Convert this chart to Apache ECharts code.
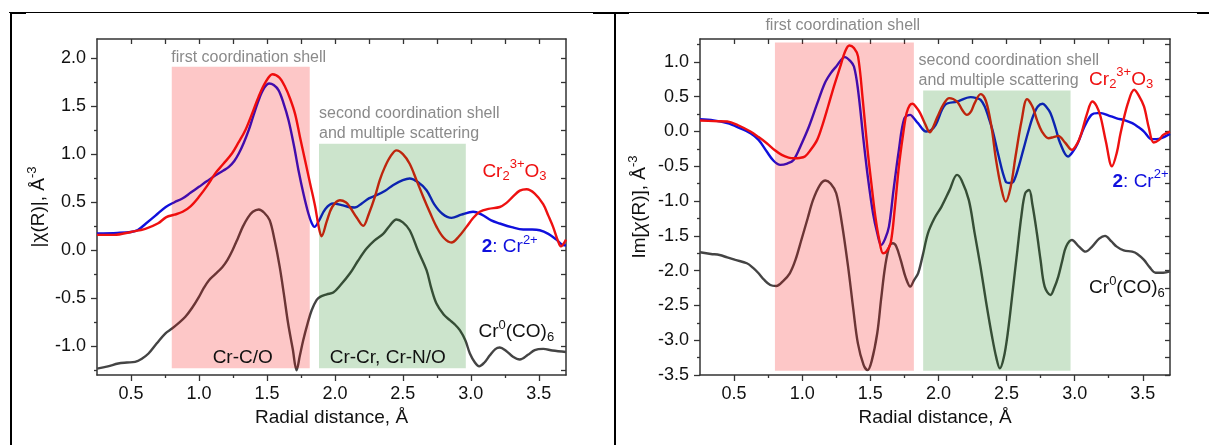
<!DOCTYPE html>
<html><head><meta charset="utf-8">
<script src="https://cdn.jsdelivr.net/npm/echarts@6/dist/echarts.min.js"></script>
<style>html,body{margin:0;padding:0;background:#fff}#c{width:1209px;height:445px}</style>
</head><body><div id="c"></div>
<script>
// ---------- tick labels ----------
const xMajorTicks = [0.5, 1.0, 1.5, 2.0, 2.5, 3.0, 3.5];
const xMinorTicks = [0.75, 1.25, 1.75, 2.25, 2.75, 3.25];
const yMajorTicksAbs = [-1.0, -0.5, 0.0, 0.5, 1.0, 1.5, 2.0];
const yMinorTicksAbs = [-1.25, -0.75, -0.25, 0.25, 0.75, 1.25, 1.75];
const yMajorTicksIm = [-3.5, -3.0, -2.5, -2.0, -1.5, -1.0, -0.5, 0.0, 0.5, 1.0];
const yMinorTicksIm = [-3.25, -2.75, -2.25, -1.75, -1.25, -0.75, -0.25, 0.25, 0.75, 1.25];

// ---------- |chi(R)| (left panel) ----------
const absCr2O3 = [[0.25,0.16],[0.375,0.16],[0.5,0.19],[0.61,0.225],[0.7,0.28],[0.76,0.345],[0.82,0.37],[0.88,0.40],[0.94,0.46],[1.0,0.556],[1.06,0.67],[1.12,0.80],[1.18,0.90],[1.244,1.01],[1.29,1.12],[1.341,1.25],[1.39,1.42],[1.439,1.60],[1.49,1.75],[1.541,1.833],[1.59,1.80],[1.634,1.70],[1.67,1.58],[1.707,1.42],[1.743,1.18],[1.78,0.94],[1.82,0.68],[1.854,0.46],[1.88,0.25],[1.902,0.146],[1.94,0.30],[1.98,0.45],[2.037,0.521],[2.08,0.50],[2.11,0.45],[2.16,0.34],[2.208,0.253],[2.25,0.38],[2.294,0.555],[2.33,0.73],[2.368,0.868],[2.41,0.98],[2.453,1.04],[2.50,1.00],[2.55,0.90],[2.60,0.73],[2.65,0.555],[2.70,0.39],[2.748,0.243],[2.80,0.13],[2.858,0.08],[2.91,0.14],[2.968,0.243],[3.02,0.34],[3.066,0.40],[3.13,0.43],[3.213,0.45],[3.26,0.49],[3.311,0.56],[3.36,0.62],[3.41,0.635],[3.47,0.59],[3.532,0.48],[3.57,0.36],[3.605,0.243],[3.64,0.10],[3.662,0.04],[3.7,0.11]];
const absCr2 = [[0.25,0.174],[0.4,0.18],[0.5,0.19],[0.55,0.21],[0.61,0.278],[0.68,0.36],[0.756,0.451],[0.82,0.50],[0.878,0.538],[0.94,0.60],[1.0,0.66],[1.06,0.72],[1.122,0.78],[1.18,0.83],[1.22,0.868],[1.26,0.93],[1.293,1.007],[1.33,1.12],[1.366,1.25],[1.40,1.40],[1.439,1.5625],[1.48,1.69],[1.517,1.736],[1.55,1.72],[1.585,1.667],[1.62,1.54],[1.659,1.354],[1.70,1.08],[1.732,0.833],[1.77,0.58],[1.805,0.382],[1.83,0.28],[1.85,0.243],[1.88,0.30],[1.93,0.43],[1.988,0.486],[2.05,0.47],[2.10,0.45],[2.147,0.445],[2.20,0.49],[2.25,0.54],[2.306,0.573],[2.37,0.62],[2.43,0.68],[2.50,0.73],[2.55,0.747],[2.61,0.71],[2.674,0.625],[2.73,0.48],[2.79,0.38],[2.858,0.337],[2.93,0.37],[3.017,0.40],[3.08,0.37],[3.15,0.31],[3.213,0.278],[3.30,0.24],[3.385,0.215],[3.45,0.215],[3.507,0.208],[3.57,0.17],[3.63,0.11],[3.68,0.052],[3.7,0.05]];
const absCrCO6 = [[0.25,-1.233],[0.33,-1.21],[0.406,-1.18],[0.47,-1.17],[0.53,-1.163],[0.58,-1.13],[0.629,-1.076],[0.69,-0.97],[0.752,-0.868],[0.802,-0.816],[0.85,-0.76],[0.9,-0.694],[0.95,-0.60],[1.0,-0.486],[1.037,-0.39],[1.074,-0.3125],[1.12,-0.25],[1.173,-0.174],[1.21,-0.10],[1.247,0.0],[1.285,0.12],[1.322,0.243],[1.36,0.34],[1.396,0.40],[1.44,0.424],[1.48,0.39],[1.52,0.3125],[1.557,0.10],[1.594,-0.174],[1.625,-0.46],[1.656,-0.764],[1.69,-1.03],[1.718,-1.25],[1.742,-1.10],[1.767,-0.9375],[1.80,-0.76],[1.829,-0.625],[1.865,-0.52],[1.891,-0.486],[1.94,-0.46],[1.988,-0.44],[2.04,-0.365],[2.11,-0.243],[2.17,-0.11],[2.233,0.017],[2.29,0.10],[2.355,0.17],[2.40,0.25],[2.453,0.32],[2.50,0.29],[2.55,0.208],[2.61,0.0],[2.674,-0.208],[2.71,-0.40],[2.747,-0.555],[2.80,-0.67],[2.846,-0.729],[2.88,-0.77],[2.919,-0.833],[2.96,-0.94],[2.993,-1.076],[3.03,-1.17],[3.061,-1.21],[3.10,-1.17],[3.14,-1.094],[3.18,-1.03],[3.213,-1.014],[3.26,-1.05],[3.31,-1.11],[3.36,-1.139],[3.42,-1.09],[3.47,-1.04],[3.532,-1.028],[3.6,-1.045],[3.7,-1.06]];

// ---------- Im[chi(R)] (right panel) ----------
const imCr2O3 = [[0.25,0.158],[0.35,0.15],[0.45,0.144],[0.53,0.09],[0.62,0.0],[0.68,-0.08],[0.74,-0.168],[0.80,-0.27],[0.85,-0.336],[0.90,-0.375],[0.94,-0.384],[0.98,-0.38],[1.02,-0.36],[1.06,-0.27],[1.11,-0.12],[1.15,0.10],[1.19,0.36],[1.235,0.66],[1.28,0.935],[1.315,1.15],[1.346,1.237],[1.38,1.20],[1.41,1.08],[1.445,0.45],[1.48,-0.264],[1.51,-0.78],[1.537,-1.22],[1.565,-1.55],[1.594,-1.75],[1.62,-1.72],[1.65,-1.6],[1.68,-1.10],[1.71,-0.5],[1.74,-0.05],[1.766,0.264],[1.79,0.38],[1.81,0.40],[1.84,0.34],[1.866,0.264],[1.90,0.12],[1.937,-0.01],[1.965,0.08],[1.994,0.216],[2.04,0.40],[2.08,0.48],[2.137,0.43],[2.175,0.31],[2.209,0.24],[2.24,0.29],[2.266,0.408],[2.31,0.537],[2.34,0.48],[2.366,0.312],[2.395,0.0],[2.423,-0.408],[2.46,-0.80],[2.494,-1.007],[2.53,-0.80],[2.566,-0.36],[2.61,0.15],[2.651,0.465],[2.69,0.36],[2.723,0.168],[2.76,0.0],[2.809,-0.096],[2.845,-0.08],[2.88,-0.062],[2.93,-0.16],[2.98,-0.264],[3.02,-0.17],[3.05,-0.024],[3.09,0.25],[3.13,0.432],[3.16,0.37],[3.19,0.216],[3.23,-0.15],[3.274,-0.5],[3.31,-0.30],[3.337,-0.024],[3.39,0.40],[3.437,0.60],[3.47,0.52],[3.509,0.36],[3.545,0.05],[3.58,-0.158],[3.62,-0.12],[3.65,-0.048],[3.7,0.0]];
const imCr2 = [[0.25,0.177],[0.35,0.16],[0.45,0.12],[0.53,0.06],[0.62,-0.024],[0.68,-0.12],[0.74,-0.288],[0.79,-0.42],[0.84,-0.48],[0.89,-0.46],[0.937,-0.408],[0.99,-0.20],[1.05,0.072],[1.11,0.40],[1.166,0.695],[1.21,0.84],[1.25,0.935],[1.314,1.07],[1.35,1.02],[1.38,0.935],[1.41,0.60],[1.45,-0.12],[1.485,-0.70],[1.52,-1.175],[1.55,-1.45],[1.58,-1.63],[1.607,-1.55],[1.637,-1.367],[1.67,-0.85],[1.71,-0.264],[1.75,0.19],[1.794,0.24],[1.82,0.19],[1.85,0.12],[1.91,0.0],[1.945,0.02],[1.98,0.096],[2.05,0.384],[2.137,0.43],[2.237,0.494],[2.28,0.48],[2.31,0.456],[2.34,0.36],[2.366,0.216],[2.40,0.0],[2.437,-0.312],[2.494,-0.72],[2.525,-0.74],[2.551,-0.72],[2.59,-0.50],[2.623,-0.264],[2.66,0.0],[2.694,0.216],[2.73,0.36],[2.766,0.4],[2.79,0.36],[2.823,0.264],[2.86,0.05],[2.894,-0.168],[2.951,-0.36],[2.99,-0.28],[3.023,-0.168],[3.07,0.06],[3.123,0.24],[3.17,0.265],[3.194,0.264],[3.25,0.23],[3.309,0.19],[3.37,0.16],[3.423,0.12],[3.47,0.06],[3.509,0.0],[3.566,-0.11],[3.60,-0.11],[3.637,-0.096],[3.7,-0.034]];
const imCrCO6 = [[0.25,-1.736],[0.33,-1.76],[0.394,-1.775],[0.45,-1.81],[0.51,-1.846],[0.594,-1.894],[0.64,-1.96],[0.68,-2.038],[0.72,-2.13],[0.766,-2.206],[0.81,-2.22],[0.86,-2.15],[0.909,-2.038],[0.95,-1.85],[0.994,-1.559],[1.04,-1.25],[1.08,-0.983],[1.13,-0.77],[1.171,-0.705],[1.21,-0.75],[1.25,-0.887],[1.29,-1.30],[1.337,-1.942],[1.375,-2.55],[1.409,-3.045],[1.45,-3.35],[1.48,-3.43],[1.51,-3.30],[1.551,-2.9],[1.58,-2.40],[1.609,-1.94],[1.64,-1.65],[1.666,-1.607],[1.69,-1.65],[1.723,-1.846],[1.76,-2.10],[1.794,-2.23],[1.82,-2.14],[1.851,-2.038],[1.885,-1.78],[1.923,-1.463],[1.97,-1.25],[2.023,-1.079],[2.08,-0.85],[2.137,-0.623],[2.17,-0.70],[2.223,-0.983],[2.265,-1.45],[2.309,-1.942],[2.35,-2.45],[2.394,-2.95],[2.425,-3.25],[2.451,-3.405],[2.48,-3.25],[2.509,-2.9],[2.545,-2.30],[2.58,-1.7],[2.61,-1.20],[2.637,-0.887],[2.666,-0.84],[2.69,-1.05],[2.723,-1.463],[2.75,-1.85],[2.78,-2.23],[2.823,-2.35],[2.85,-2.25],[2.88,-2.086],[2.91,-1.85],[2.937,-1.655],[2.98,-1.559],[3.03,-1.65],[3.08,-1.727],[3.13,-1.65],[3.18,-1.54],[3.223,-1.5],[3.27,-1.58],[3.309,-1.655],[3.36,-1.71],[3.423,-1.727],[3.46,-1.76],[3.509,-1.846],[3.55,-1.95],[3.594,-2.03],[3.65,-2.03],[3.7,-2.01]];

// ---------- shaded shell regions [xFrom, xTo, yFrom, yTo] ----------
const absShells = [[0.8, 1.815, -1.23, 1.91], [1.883, 2.963, -1.23, 1.11]];
const imShells  = [[0.8, 1.82, -3.44, 1.28], [1.888, 2.97, -3.44, 0.59]];

// ---------- styles ----------
const FONT = "'Liberation Sans', Arial, sans-serif";
const shellColors = ['rgba(245,0,0,0.22)', 'rgba(0,120,0,0.20)'];
const RED = '#ee1111', BLUE = '#1010dd', DARK = '#444444', GRAY = '#8a8a8a', AX = '#333333';

const chart = echarts.init(document.getElementById('c'), null, {renderer: 'canvas'});

const grids = [
  {left: 97, top: 39, width: 469, height: 336},
  {left: 700, top: 39, width: 470, height: 336}
];

function xAxesFor(g) {
  const base = {type: 'value', gridIndex: g, min: 0.25, max: 3.7, splitLine: {show: false}};
  return [
    Object.assign({}, base, {
      position: 'bottom',
      name: 'Radial distance, Å', nameLocation: 'middle', nameGap: 32,
      nameTextStyle: {fontSize: 19, fontFamily: FONT, color: '#111'},
      axisLine: {show: true, onZero: false, lineStyle: {color: AX, width: 1.5}},
      axisTick: {show: true, inside: false, length: 6, customValues: xMajorTicks, lineStyle: {color: AX, width: 1.3}},
      axisLabel: {show: true, customValues: xMajorTicks, margin: 10, fontSize: 18, fontFamily: FONT, color: '#111',
        formatter: v => v.toFixed(1)}
    }),
    Object.assign({}, base, {
      position: 'bottom',
      axisLine: {show: false, onZero: false},
      axisTick: {show: true, inside: false, length: 3, customValues: xMinorTicks, lineStyle: {color: AX, width: 1.3}},
      axisLabel: {show: false}
    }),
    Object.assign({}, base, {
      position: 'top',
      axisLine: {show: true, onZero: false, lineStyle: {color: AX, width: 1.5}},
      axisTick: {show: true, inside: true, length: 5, customValues: xMajorTicks.concat(xMinorTicks), lineStyle: {color: AX, width: 1.3}},
      axisLabel: {show: false}
    })
  ];
}

function yAxesFor(g, min, max, major, minor, nameRich, gap) {
  const base = {type: 'value', gridIndex: g, min: min, max: max, splitLine: {show: false}};
  return [
    Object.assign({}, base, {
      position: 'left',
      name: nameRich, nameLocation: 'middle', nameGap: gap, nameRotate: 90,
      nameTextStyle: {fontSize: 19, fontFamily: FONT, color: '#111',
        rich: {sup: {fontSize: 13, fontFamily: FONT, color: '#111', padding: [0, 0, 12, 0]},
               it: {fontSize: 19, fontFamily: FONT, color: '#111', fontStyle: 'italic'}}},
      axisLine: {show: true, onZero: false, lineStyle: {color: AX, width: 1.5}},
      axisTick: {show: true, inside: false, length: 6, customValues: major, lineStyle: {color: AX, width: 1.3}},
      axisLabel: {show: true, customValues: major, margin: 11, fontSize: 18, fontFamily: FONT, color: '#111',
        formatter: v => v.toFixed(1)}
    }),
    Object.assign({}, base, {
      position: 'left',
      axisLine: {show: false, onZero: false},
      axisTick: {show: true, inside: false, length: 3, customValues: minor, lineStyle: {color: AX, width: 1.3}},
      axisLabel: {show: false}
    }),
    Object.assign({}, base, {
      position: 'right',
      axisLine: {show: true, onZero: false, lineStyle: {color: AX, width: 1.5}},
      axisTick: {show: true, inside: true, length: 5, customValues: major.concat(minor), lineStyle: {color: AX, width: 1.3}},
      axisLabel: {show: false}
    })
  ];
}

function lineSeries(xi, yi, data, color, z) {
  return {type: 'line', xAxisIndex: xi, yAxisIndex: yi, data: data, showSymbol: false, smooth: 0.35,
    z: z, lineStyle: {color: color, width: 2.4}, itemStyle: {color: color}, animation: false};
}

function shellSeries(xi, yi, data) {
  return {type: 'custom', xAxisIndex: xi, yAxisIndex: yi, z: 5, data: data, animation: false, silent: true,
    encode: {x: [0, 1], y: [2, 3]},
    renderItem: function (params, api) {
      const p0 = api.coord([api.value(0), api.value(3)]);
      const p1 = api.coord([api.value(1), api.value(2)]);
      return {type: 'rect', shape: {x: p0[0], y: p0[1], width: p1[0] - p0[0], height: p1[1] - p0[1]},
        style: {fill: shellColors[params.dataIndex]}};
    }};
}

const option = {
  backgroundColor: '#ffffff',
  animation: false,
  grid: grids,
  xAxis: xAxesFor(0).concat(xAxesFor(1)),
  yAxis: yAxesFor(0, -1.3, 2.2, yMajorTicksAbs, yMinorTicksAbs, '|χ(R)|, Å{sup|-3}', 46)
    .concat(yAxesFor(1, -3.5, 1.33, yMajorTicksIm, yMinorTicksIm, 'Im[{it|χ}(R)], Å{sup|-3}', 48)),
  series: [
    lineSeries(0, 0, absCrCO6, DARK, 2),
    lineSeries(0, 0, absCr2, BLUE, 3),
    lineSeries(0, 0, absCr2O3, RED, 4),
    shellSeries(0, 0, absShells),
    lineSeries(3, 3, imCrCO6, DARK, 2),
    lineSeries(3, 3, imCr2, BLUE, 3),
    lineSeries(3, 3, imCr2O3, RED, 4),
    shellSeries(3, 3, imShells)
  ]
};
chart.setOption(option);

// ---------- annotations (anchored in data coordinates) ----------
const richChem = {
  m: {fontSize: 19, fontFamily: FONT},
  b: {fontSize: 19, fontFamily: FONT, fontWeight: 'bold'},
  sub: {fontSize: 13, fontFamily: FONT, padding: [10, 0, 0, 0]},
  sup: {fontSize: 13, fontFamily: FONT, padding: [0, 0, 14, 0]}
};
const annotations = [
  {g: 0, x: 0.797, y: 2.003, text: 'first coordination shell', color: GRAY, size: 16, align: 'left'},
  {g: 0, x: 1.883, y: 1.419, text: 'second coordination shell', color: GRAY, size: 16, align: 'left'},
  {g: 0, x: 1.883, y: 1.21, text: 'and multiple scattering', color: GRAY, size: 16, align: 'left'},
  {g: 0, x: 3.085, y: 0.816, text: '{m|Cr}{sub|2}{sup|3+}{m|O}{sub|3}', color: RED, size: 19, align: 'left'},
  {g: 0, x: 3.08, y: 0.034, text: '{b|2}{m|: Cr}{sup|2+}', color: BLUE, size: 19, align: 'left'},
  {g: 0, x: 3.056, y: -0.852, text: '{m|Cr}{sup|0}{m|(CO)}{sub|6}', color: '#111', size: 19, align: 'left'},
  {g: 0, x: 1.322, y: -1.116, text: 'Cr-C/O', color: '#111', size: 19, align: 'center'},
  {g: 0, x: 2.389, y: -1.116, text: 'Cr-Cr, Cr-N/O', color: '#111', size: 19, align: 'center'},
  {g: 1, x: 0.73, y: 1.525, text: 'first coordination shell', color: GRAY, size: 16, align: 'left'},
  {g: 1, x: 1.854, y: 1.017, text: 'second coordination shell', color: GRAY, size: 16, align: 'left'},
  {g: 1, x: 1.854, y: 0.734, text: 'and multiple scattering', color: GRAY, size: 16, align: 'left'},
  {g: 1, x: 3.106, y: 0.744, text: '{m|Cr}{sub|2}{sup|3+}{m|O}{sub|3}', color: RED, size: 19, align: 'left'},
  {g: 1, x: 3.278, y: -0.724, text: '{b|2}{m|: Cr}{sup|2+}', color: BLUE, size: 19, align: 'left'},
  {g: 1, x: 3.106, y: -2.249, text: '{m|Cr}{sup|0}{m|(CO)}{sub|6}', color: '#111', size: 19, align: 'left'}
];

const graphics = annotations.map(a => {
  const p = chart.convertToPixel({gridIndex: a.g}, [a.x, a.y]);
  const rich = {};
  Object.keys(richChem).forEach(k => { rich[k] = Object.assign({fill: a.color}, richChem[k]); });
  return {type: 'text', x: p[0], y: p[1], z: 100,
    style: {text: a.text, fill: a.color, font: a.size + 'px ' + FONT, align: a.align, verticalAlign: 'middle', rich: rich}};
});

// document table frame around the two panels
const frame = [
  {x1: 9, y1: 12.5, x2: 1209, y2: 12.5, w: 1},
  {x1: 10, y1: 13, x2: 26, y2: 13, w: 2},
  {x1: 593, y1: 13, x2: 629, y2: 13, w: 2},
  {x1: 1197, y1: 13, x2: 1209, y2: 13, w: 2},
  {x1: 11, y1: 12, x2: 11, y2: 445, w: 2},
  {x1: 615, y1: 12, x2: 615, y2: 445, w: 2}
];
frame.forEach(f => graphics.push({type: 'line', z: 100, silent: true,
  shape: {x1: f.x1, y1: f.y1, x2: f.x2, y2: f.y2}, style: {stroke: '#000', lineWidth: f.w}}));

chart.setOption({graphic: graphics});
</script>
</body></html>
